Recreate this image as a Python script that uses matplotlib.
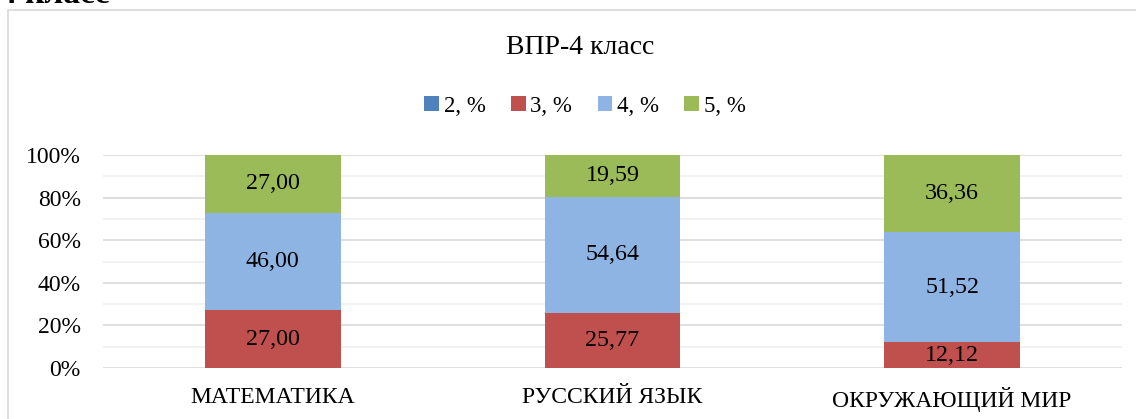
import numpy as np
import matplotlib
matplotlib.use("Agg")
from matplotlib import pyplot as plt
from matplotlib.patches import Rectangle

plt.rcParams['font.family'] = ['Liberation Serif', 'DejaVu Serif']

categories = ["МАТЕМАТИКА", "РУССКИЙ ЯЗЫК", "ОКРУЖАЮЩИЙ МИР"]
series_names = ["2, %", "3, %", "4, %", "5, %"]
grade2 = [0.0, 0.0, 0.0]
grade3 = [27.00, 25.77, 12.12]
grade4 = [46.00, 54.64, 51.52]
grade5 = [27.00, 19.59, 36.36]
colors = ["#4f81bd", "#c0504d", "#8eb4e3", "#9bbb59"]

fig = plt.figure(figsize=(11.36, 4.19), dpi=100)
ax = fig.add_axes([103 / 1136, 1 - 368 / 419, 1019 / 1136, 213 / 419])

# chart frame and the cut-off heading above it
fig.add_artist(Rectangle((8 / 1136, -0.1), 1.2, 1 - 10 / 419 + 0.1,
                         transform=fig.transFigure, fill=False,
                         edgecolor="#d9d9d9", linewidth=1.2))
fig.text(0.0, 1 - 3 / 419, "4 класс", fontsize=24, fontweight="bold",
         va="baseline", ha="left")

x = np.arange(len(categories))
data = [grade2, grade3, grade4, grade5]
bottom = np.zeros(len(categories))
for name, vals, col in zip(series_names, data, colors):
    vals = np.array(vals)
    ax.bar(x, vals, 0.4, bottom=bottom, color=col, label=name, zorder=3)
    for xi, b, v in zip(x, bottom, vals):
        if v > 0:
            ax.text(xi, b + v / 2, f"{v:.2f}".replace(".", ","),
                    ha="center", va="center", fontsize=17.3, zorder=4)
    bottom += vals

ax.set_xlim(-0.5, 2.5)
ax.set_ylim(0, 100)
ax.set_yticks(np.arange(0, 101, 20))
ax.set_yticklabels([f"{v}%" for v in range(0, 101, 20)])
ax.set_yticks(np.arange(10, 100, 20), minor=True)
ax.grid(axis="y", which="major", color="#d9d9d9", linewidth=1.2, zorder=0)
ax.grid(axis="y", which="minor", color="#f0f0f0", linewidth=1.2, zorder=0)
ax.set_xticks(x)
ax.set_xticklabels(categories)
ax.tick_params(axis="both", which="both", length=0, labelsize=17)
ax.tick_params(axis="y", pad=16)
ax.tick_params(axis="x", pad=14)
for s in ax.spines.values():
    s.set_visible(False)

fig.text(580 / 1136, 1 - 47 / 419, "ВПР-4 класс", ha="center", va="center",
         fontsize=20)
fig.legend(loc="center", bbox_to_anchor=(585 / 1136, 1 - 106 / 419), ncol=4,
           frameon=False, fontsize=16.5, handlelength=0.65, handleheight=0.65,
           handletextpad=0.2, columnspacing=1.1)

fig.savefig("out.png", dpi=100)
